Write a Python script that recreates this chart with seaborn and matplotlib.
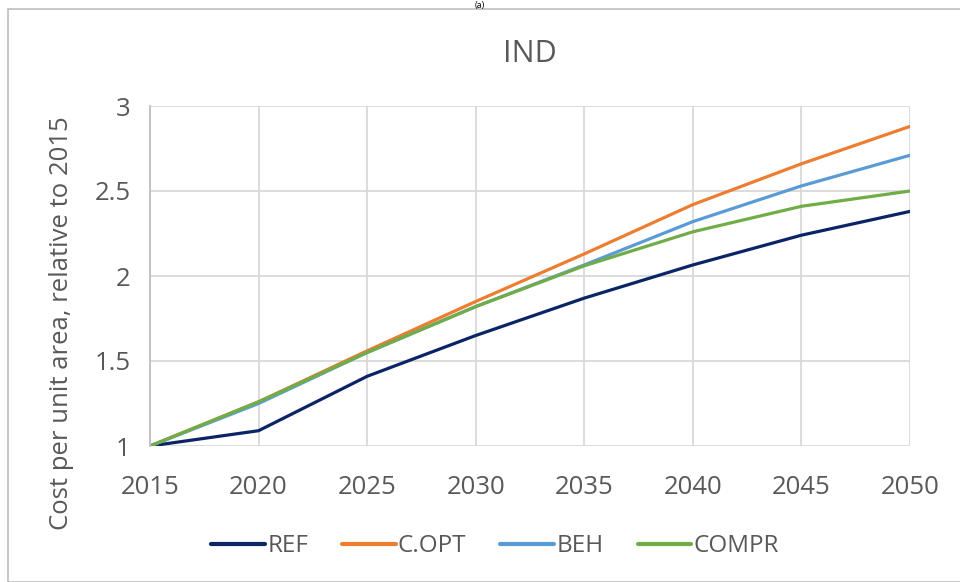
import matplotlib
matplotlib.use('Agg')
import matplotlib.pyplot as plt
import seaborn as sns
import pandas as pd
from matplotlib.patches import Rectangle

# Data
years = [2015, 2020, 2025, 2030, 2035, 2040, 2045, 2050]
ref = [1.00, 1.09, 1.41, 1.65, 1.87, 2.065, 2.24, 2.38]
c_opt = [1.00, 1.26, 1.56, 1.85, 2.13, 2.42, 2.66, 2.88]
beh = [1.00, 1.25, 1.55, 1.82, 2.065, 2.32, 2.53, 2.71]
compr = [1.00, 1.26, 1.55, 1.82, 2.06, 2.26, 2.41, 2.50]
scenarios = ['REF', 'C.OPT', 'BEH', 'COMPR']
colors = ['#0b2466', '#ed7d31', '#5b9bd5', '#70ad47']

df = pd.DataFrame({'year': years, 'REF': ref, 'C.OPT': c_opt, 'BEH': beh, 'COMPR': compr})
long_df = df.melt(id_vars='year', var_name='scenario', value_name='value')

sns.set_style('white')
plt.rcParams['font.family'] = ['Open Sans', 'DejaVu Sans']
text_col = '#595959'

fig = plt.figure(figsize=(9.6, 5.82), dpi=100)
ax = fig.add_axes([150 / 960, 1 - 446 / 582, 760 / 960, 340 / 582])

sns.lineplot(data=long_df, x='year', y='value', hue='scenario', hue_order=scenarios,
             palette=colors, linewidth=2.3, ax=ax)

ax.set_xlim(2015, 2050)
ax.set_ylim(1, 3)
ax.set_xticks(years)
ax.set_yticks([1, 1.5, 2, 2.5, 3])
ax.set_yticklabels(['1', '1.5', '2', '2.5', '3'])
ax.grid(True, color='#d9d9d9', linewidth=1.3)
ax.set_axisbelow(True)
for side in ['top', 'right', 'bottom']:
    ax.spines[side].set_visible(False)
ax.spines['left'].set_color('#bfbfbf')
ax.spines['left'].set_linewidth(1.3)
ax.tick_params(axis='both', length=0, labelsize=18.5, colors=text_col)
ax.tick_params(axis='x', pad=21)
ax.tick_params(axis='y', pad=14)

ax.set_xlabel('')
ax.set_ylabel('Cost per unit area, relative to 2015', fontsize=18.5, color=text_col)
ax.yaxis.set_label_coords(-76 / 760, 0.36)
ax.set_title('IND', fontsize=22, color=text_col, pad=32)

handles, labels = ax.get_legend_handles_labels()
leg = ax.legend(handles, labels, loc='center', bbox_to_anchor=(0.454, -0.295), ncol=4,
                frameon=False, fontsize=17.5, handlelength=2.2, handletextpad=0.1,
                columnspacing=1.4)
for t in leg.get_texts():
    t.set_color(text_col)
for line in leg.get_lines():
    line.set_linewidth(3)

# outer chart border and the small caption above it
fig.patches.append(Rectangle((8 / 960, 0), 1.2, 1 - 9 / 582, transform=fig.transFigure,
                             fill=False, edgecolor='#bfbfbf', linewidth=1.2))
fig.text(0.5, 0.999, '(a)', ha='center', va='top', fontsize=6.5, color='black')

fig.savefig('out.png', dpi=100)
